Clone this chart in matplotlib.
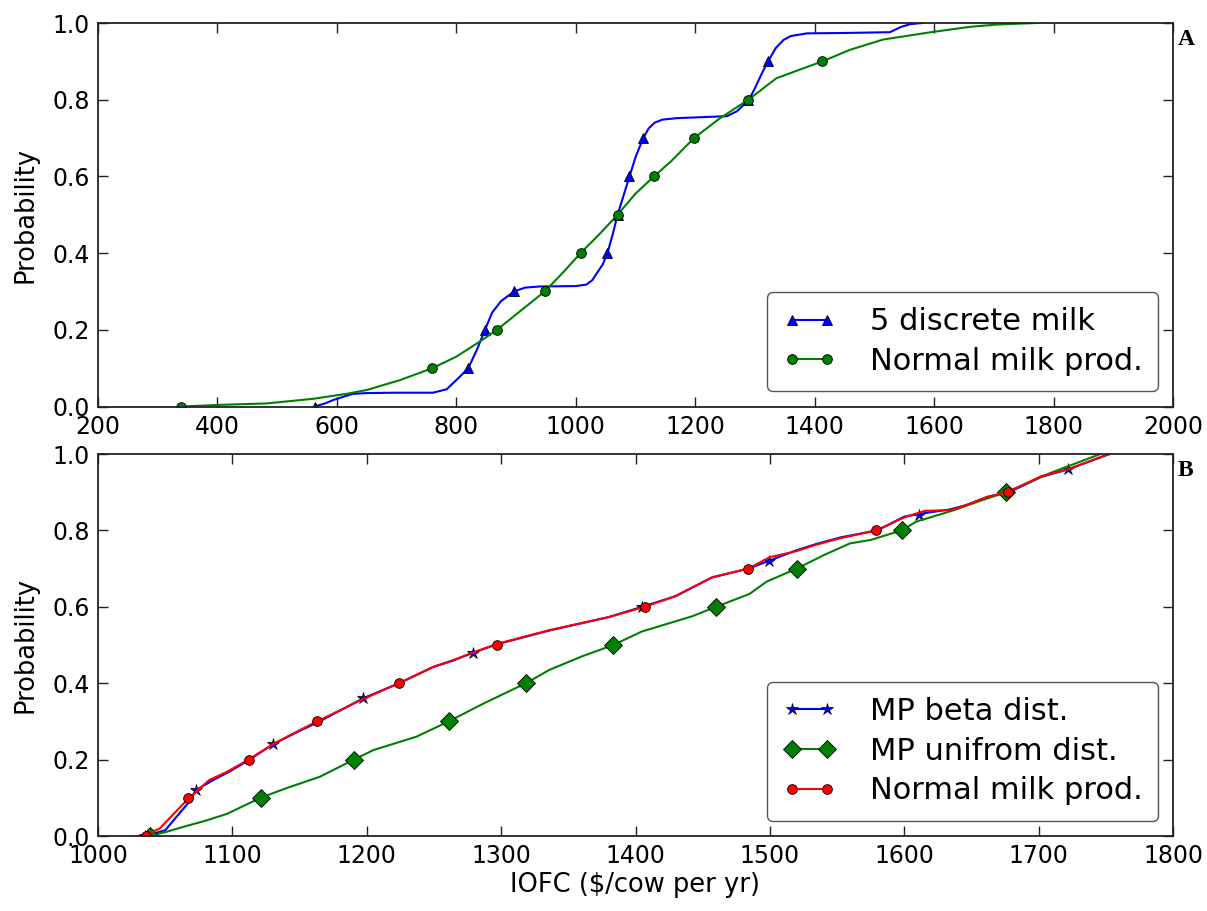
import matplotlib
matplotlib.use("Agg")
import matplotlib.pyplot as plt
from matplotlib.lines import Line2D

# ---------------- Panel A data ----------------
a_discrete_x = [563, 580, 594, 610, 627, 650, 700, 761, 784, 806, 820, 835, 848, 860, 875, 897,
                915, 940, 1000, 1018, 1028, 1035, 1045, 1053, 1062, 1070, 1080, 1090, 1100, 1113,
                1122, 1132, 1145, 1170, 1253, 1270, 1280, 1290, 1300, 1312, 1322, 1335, 1348,
                1360, 1387, 1450, 1526, 1545, 1560, 1580]
a_discrete_p = [0, 0.008, 0.017, 0.025, 0.033, 0.035, 0.036, 0.036, 0.045, 0.078, 0.1, 0.15, 0.2,
                0.245, 0.275, 0.3, 0.31, 0.313, 0.314, 0.318, 0.33, 0.347, 0.37, 0.4, 0.45, 0.5,
                0.55, 0.6, 0.65, 0.7, 0.725, 0.74, 0.748, 0.752, 0.757, 0.77, 0.785, 0.8, 0.83,
                0.87, 0.9, 0.935, 0.956, 0.966, 0.973, 0.974, 0.976, 0.99, 0.997, 1.0]
a_normal_x = [339, 400, 482, 560, 616, 650, 706, 760, 800, 840, 868, 900, 948, 979, 1008, 1040,
              1070, 1100, 1131, 1160, 1198, 1240, 1289, 1336, 1413, 1459, 1515, 1599, 1660,
              1705, 1772]
a_normal_p = [0, 0.004, 0.008, 0.02, 0.033, 0.043, 0.069, 0.1, 0.13, 0.17, 0.2, 0.24, 0.3, 0.35,
              0.4, 0.45, 0.5, 0.555, 0.6, 0.64, 0.7, 0.75, 0.8, 0.856, 0.9, 0.93, 0.957, 0.977,
              0.99, 0.996, 1.0]
a_discrete_mx = [563, 820, 848, 897, 1053, 1070, 1089, 1113, 1289, 1322]
a_normal_mx = [339, 760, 868, 948, 1008, 1070, 1131, 1198, 1289, 1413]
a_marker_p = [0.0, 0.1, 0.2, 0.3, 0.4, 0.5, 0.6, 0.7, 0.8, 0.9]

# ---------------- Panel B data ----------------
b_beta_x = [1033, 1038, 1050, 1068, 1073, 1085, 1097, 1112, 1130, 1150, 1165, 1197, 1224, 1250,
            1265, 1279, 1298, 1336, 1380, 1405, 1430, 1457, 1484, 1499, 1519, 1535, 1553, 1580,
            1600, 1611, 1634, 1646, 1662, 1678, 1702, 1722, 1753]
b_beta_p = [0, 0.003, 0.015, 0.09, 0.12, 0.145, 0.167, 0.198, 0.24, 0.275, 0.30, 0.36, 0.40,
            0.443, 0.46, 0.48, 0.503, 0.538, 0.573, 0.60, 0.628, 0.677, 0.70, 0.72, 0.747, 0.765,
            0.782, 0.80, 0.836, 0.843, 0.855, 0.866, 0.888, 0.90, 0.94, 0.96, 1.0]
b_unif_x = [1037, 1050, 1063.5, 1080, 1096, 1121, 1140, 1165, 1190.5, 1205, 1237, 1261, 1287,
            1318.5, 1336, 1360, 1383.5, 1404.5, 1426, 1442, 1460, 1485, 1497.6, 1520, 1540,
            1559.6, 1575, 1598, 1609, 1637, 1658.6, 1676, 1708.5, 1746]
b_unif_p = [0, 0.01, 0.024, 0.04, 0.058, 0.1, 0.125, 0.155, 0.2, 0.225, 0.26, 0.30, 0.347, 0.40,
            0.435, 0.47, 0.5, 0.535, 0.558, 0.575, 0.60, 0.634, 0.666, 0.70, 0.735, 0.766, 0.775,
            0.80, 0.823, 0.853, 0.88, 0.90, 0.95, 1.0]
b_normal_x = [1031, 1036, 1046, 1067, 1083, 1096, 1112, 1130, 1150, 1163, 1197, 1224, 1249.5,
              1264, 1279, 1297, 1336, 1380, 1407, 1429, 1457, 1484, 1500, 1519, 1535, 1553, 1579,
              1600, 1615, 1634, 1646, 1662, 1677, 1702, 1722, 1752]
b_normal_p = [0, 0.003, 0.02, 0.097, 0.147, 0.168, 0.2, 0.24, 0.277, 0.30, 0.358, 0.40, 0.443,
              0.46, 0.48, 0.503, 0.539, 0.573, 0.60, 0.627, 0.677, 0.70, 0.73, 0.745, 0.763, 0.78,
              0.80, 0.834, 0.851, 0.853, 0.866, 0.888, 0.90, 0.942, 0.96, 1.0]
b_beta_mx = [1035, 1073, 1130, 1197, 1279, 1405, 1499, 1611, 1722]
b_beta_mp = [0.0, 0.12, 0.24, 0.36, 0.48, 0.60, 0.72, 0.84, 0.96]
b_unif_mx = [1039, 1121, 1190.5, 1261, 1318.5, 1383.5, 1460, 1520, 1598, 1676]
b_normal_mx = [1036, 1067, 1112, 1163, 1224, 1297, 1407, 1484, 1579, 1677]
b_marker_p = [0.0, 0.1, 0.2, 0.3, 0.4, 0.5, 0.6, 0.7, 0.8, 0.9]

a_xticks = list(range(200, 2001, 200))
b_xticks = list(range(1000, 1801, 100))
yticks = [0.0, 0.2, 0.4, 0.6, 0.8, 1.0]

plt.rcParams['font.family'] = ['DejaVu Sans']
W, H = 1207, 911
fig = plt.figure(figsize=(W / 100, H / 100), dpi=100, facecolor='white')

ax1 = fig.add_axes([98 / W, 1 - 406.5 / H, (1173 - 98) / W, (406.5 - 23) / H])
ax2 = fig.add_axes([98 / W, 1 - 836 / H, (1173 - 98) / W, (836 - 454) / H])

LW = 1.5
TICK_FS = 17
LEG_FS = 22
LABEL_FS = 18.5


def style(ax):
    for s in ax.spines.values():
        s.set_linewidth(1.3)
        s.set_color('#222222')
    ax.tick_params(direction='in', top=True, right=True, length=7, width=1,
                   labelsize=TICK_FS, pad=6, color='#222222')
    ax.set_yticks(yticks)
    ax.set_yticklabels([f"{v:.1f}" for v in yticks])
    ax.set_ylim(0, 1)
    ax.set_ylabel("Probability", fontsize=LABEL_FS, labelpad=10)


def legend(ax, handles, labels):
    leg = ax.legend(handles, labels, loc='lower right', fontsize=LEG_FS, numpoints=2,
                    fancybox=True, framealpha=1, borderaxespad=0.5, handlelength=1.75,
                    handletextpad=1.1, labelspacing=0.35, borderpad=0.5)
    leg.get_frame().set_edgecolor('#555555')
    leg.get_frame().set_linewidth(1.0)
    return leg


# Panel A
ax1.plot(a_discrete_x, a_discrete_p, color='blue', lw=LW)
ax1.plot(a_discrete_mx, a_marker_p, ls='none', marker='^', ms=7, color='blue',
         markeredgecolor='black', markeredgewidth=0.6)
ax1.plot(a_normal_x, a_normal_p, color='green', lw=LW)
ax1.plot(a_normal_mx, a_marker_p, ls='none', marker='o', ms=7, color='green',
         markeredgecolor='black', markeredgewidth=0.6)
ax1.set_xlim(200, 2000)
ax1.set_xticks(a_xticks)
style(ax1)
h1 = [Line2D([0, 1], [0, 1], color='blue', lw=LW, marker='^', ms=7, markeredgecolor='black',
             markeredgewidth=0.6),
      Line2D([0, 1], [0, 1], color='green', lw=LW, marker='o', ms=7, markeredgecolor='black',
             markeredgewidth=0.6)]
legend(ax1, h1, ["5 discrete milk", "Normal milk prod."])
ax1.text(1.004, 0.985, "A", transform=ax1.transAxes, family='Liberation Serif',
         fontsize=17, fontweight='bold', ha='left', va='top')

# Panel B
ax2.plot(b_beta_x, b_beta_p, color='blue', lw=LW)
ax2.plot(b_beta_mx, b_beta_mp, ls='none', marker='*', ms=9, color='blue',
         markeredgecolor='black', markeredgewidth=0.5)
ax2.plot(b_unif_x, b_unif_p, color='green', lw=LW)
ax2.plot(b_unif_mx, b_marker_p, ls='none', marker='D', ms=9, color='green',
         markeredgecolor='black', markeredgewidth=0.6)
ax2.plot(b_normal_x, b_normal_p, color='red', lw=LW)
ax2.plot(b_normal_mx, b_marker_p, ls='none', marker='o', ms=7, color='red',
         markeredgecolor='black', markeredgewidth=0.6)
ax2.set_xlim(1000, 1800)
ax2.set_xticks(b_xticks)
style(ax2)
ax2.set_xlabel("IOFC ($/cow per yr)", fontsize=LABEL_FS, labelpad=3)
h2 = [Line2D([0, 1], [0, 1], color='blue', lw=LW, marker='*', ms=9, markeredgecolor='black',
             markeredgewidth=0.5),
      Line2D([0, 1], [0, 1], color='green', lw=LW, marker='D', ms=9, markeredgecolor='black',
             markeredgewidth=0.6),
      Line2D([0, 1], [0, 1], color='red', lw=LW, marker='o', ms=7, markeredgecolor='black',
             markeredgewidth=0.6)]
legend(ax2, h2, ["MP beta dist.", "MP unifrom dist.", "Normal milk prod."])
ax2.text(1.004, 0.985, "B", transform=ax2.transAxes, family='Liberation Serif',
         fontsize=17, fontweight='bold', ha='left', va='top')

fig.savefig("out.png", dpi=100, facecolor='white')
